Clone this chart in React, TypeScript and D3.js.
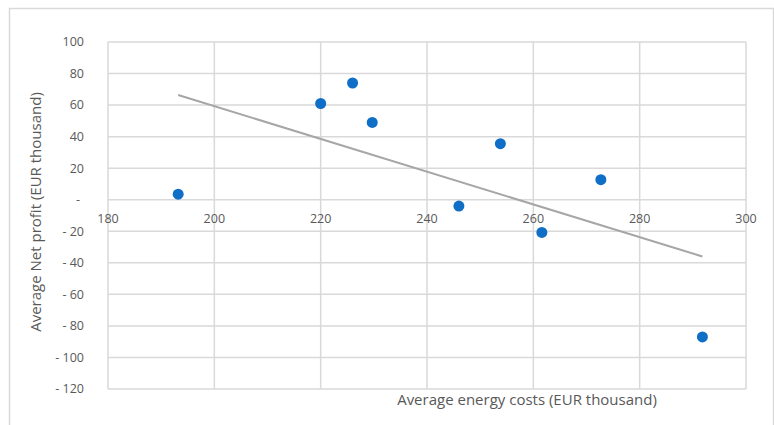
import * as d3 from 'd3';
import { useEffect } from 'react';

const energyCosts = [193.2, 220, 226, 229.7, 246, 253.8, 261.6, 272.7, 291.8];
const netProfit = [3.5, 61, 74, 49, -4, 35.5, -20.7, 12.7, -87];
const xTicks = [180, 200, 220, 240, 260, 280, 300];
const yTicks = [100, 80, 60, 40, 20, 0, -20, -40, -60, -80, -100, -120];
const xTitle = 'Average energy costs (EUR thousand)';
const yTitle = 'Average Net profit (EUR thousand)';

const width = 774;
const height = 425;
const font = '"Open Sans", "Noto Sans", sans-serif';
const textColor = '#595959';
const gridColor = '#d9d9d9';

const fmtY = (v: number) => (v === 0 ? '-' : v < 0 ? `- ${Math.abs(v)}` : `${v}`);

export default function App() {
    useEffect(() => {
        document.body.style.margin = '0';
    }, []);

    const x = d3.scaleLinear([180, 300], [108, 746]);
    const y = d3.scaleLinear([-120, 100], [389, 42]);

    // least squares trendline over the points
    const mx = d3.mean(energyCosts)!;
    const my = d3.mean(netProfit)!;
    const slope = d3.sum(energyCosts, (v, i) => (v - mx) * (netProfit[i] - my)) /
        d3.sum(energyCosts, v => (v - mx) ** 2);
    const x0 = d3.min(energyCosts)!;
    const x1 = d3.max(energyCosts)!;
    const trend = d3.line<number>()
        .x(v => x(v))
        .y(v => y(my + slope * (v - mx)));

    return (
        <svg width={width} height={height} style={{ display: 'block', background: '#fff' }}>
            <rect x={9.5} y={8.5} width={764} height={440} fill="#fff" stroke={gridColor} strokeWidth={1.5} />

            {yTicks.map(t => (
                <line key={'gy' + t} x1={x(180)} x2={x(300)} y1={y(t)} y2={y(t)} stroke={gridColor} strokeWidth={1.5} />
            ))}
            {xTicks.map(t => (
                <line key={'gx' + t} x1={x(t)} x2={x(t)} y1={y(100)} y2={y(-120)} stroke={gridColor} strokeWidth={1.5} />
            ))}

            {yTicks.map(t => (
                <text key={'ly' + t} x={t === 0 ? 80 : 84} y={y(t)} dy="0.35em" textAnchor="end"
                    fontFamily={font} fontSize={12.5} fill={textColor}>{fmtY(t)}</text>
            ))}
            {xTicks.map(t => (
                <text key={'lx' + t} x={x(t)} y={y(0) + 19} dy="0.35em" textAnchor="middle"
                    fontFamily={font} fontSize={12.5} fill={textColor}>{t}</text>
            ))}

            <path d={trend([x0, x1]) ?? ''} fill="none" stroke="#a6a6a6" strokeWidth={2} />

            {energyCosts.map((v, i) => (
                <circle key={'p' + i} cx={x(v)} cy={y(netProfit[i])} r={5.5} fill="#0f6fc6" />
            ))}

            <text x={527} y={405} textAnchor="middle" fontFamily={font} fontSize={15} fill={textColor}>{xTitle}</text>
            <text transform="translate(41, 212) rotate(-90)" textAnchor="middle"
                fontFamily={font} fontSize={15} fill={textColor}>{yTitle}</text>
        </svg>
    );
}
